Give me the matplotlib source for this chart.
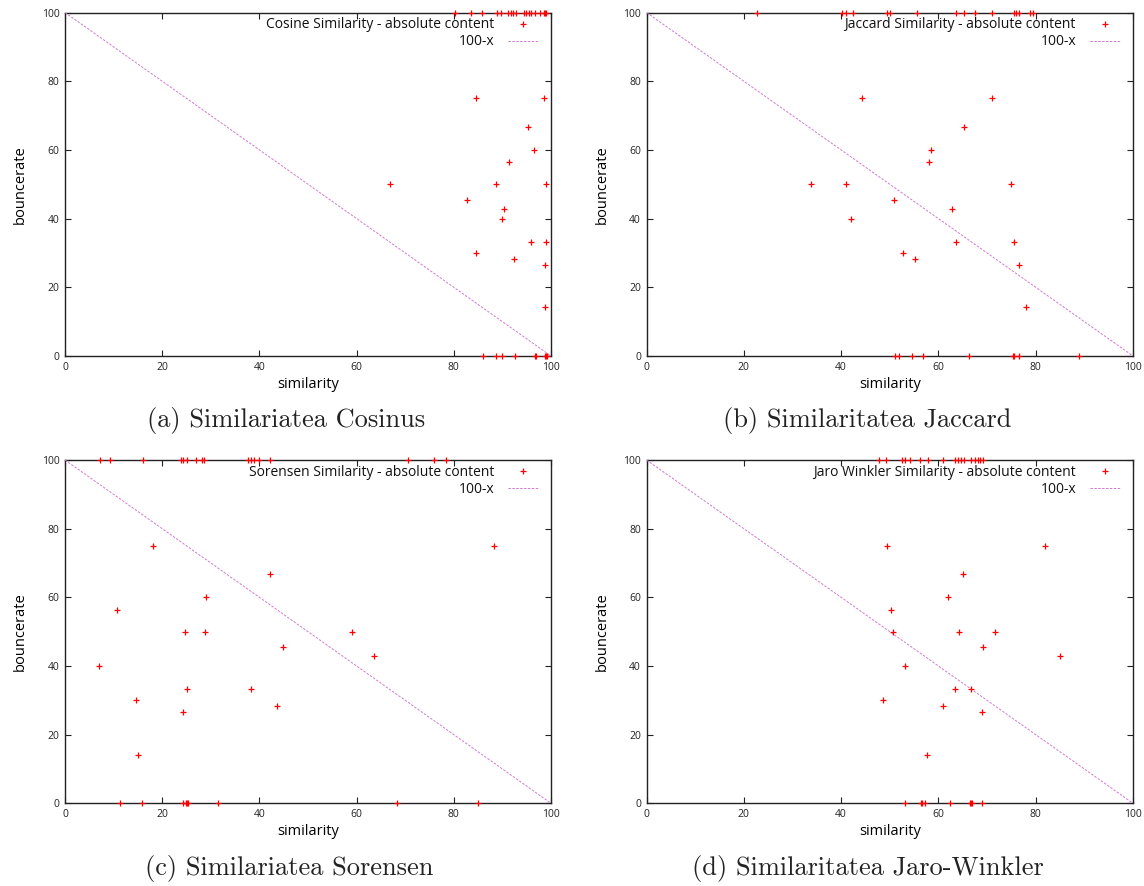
import matplotlib
matplotlib.use("Agg")
import matplotlib.pyplot as plt

# ---- data: (similarity %, bounce rate %) per page pair ----
cosine_sim = [84.5, 98.6, 95.3, 96.6, 91.4, 66.8, 88.7, 99.0, 82.8, 90.3, 89.9,
              95.8, 99.0, 84.5, 92.3, 98.8, 98.8,
              86.0, 88.7, 89.9, 92.6, 96.8, 97.0, 98.8, 99.0, 99.1,
              80.3, 83.6, 85.7, 88.8, 89.8, 91.2, 91.7, 92.2, 92.7, 94.4,
              94.9, 95.5, 95.8, 96.7, 97.7, 98.5, 98.7, 98.9]
cosine_bounce = [75, 75, 66.7, 60, 56.4, 50, 50, 50, 45.4, 42.8, 40,
                 33.3, 33.3, 30, 28.2, 26.6, 14.2,
                 0, 0, 0, 0, 0, 0, 0, 0, 0,
                 100, 100, 100, 100, 100, 100, 100, 100, 100, 100,
                 100, 100, 100, 100, 100, 100, 100, 100]

jaccard_sim = [44.2, 71.0, 65.2, 58.5, 58.1, 33.9, 41.0, 75.0, 50.8, 62.7, 42.0,
               63.7, 75.5, 52.7, 55.1, 76.5, 78.0,
               51.0, 52.0, 54.5, 56.8, 66.2, 75.3, 75.5, 76.5, 88.8,
               22.8, 40.1, 41.0, 42.5, 49.5, 50.0, 55.6, 63.7, 65.2, 67.6,
               71.0, 75.5, 76.0, 76.6, 78.8, 79.5]
jaccard_bounce = [75, 75, 66.7, 60, 56.4, 50, 50, 50, 45.4, 42.8, 40,
                  33.3, 33.3, 30, 28.2, 26.6, 14.2,
                  0, 0, 0, 0, 0, 0, 0, 0, 0,
                  100, 100, 100, 100, 100, 100, 100, 100, 100, 100,
                  100, 100, 100, 100, 100, 100]

sorensen_sim = [18.2, 88.3, 42.1, 29.0, 10.7, 24.7, 28.8, 59.0, 44.8, 63.6, 7.0,
                25.1, 38.2, 14.7, 43.6, 24.2, 15.1,
                11.4, 15.9, 24.2, 24.9, 25.1, 25.3, 31.5, 68.4, 84.9,
                7.1, 9.3, 16.0, 23.9, 24.2, 25.1, 26.9, 28.2, 28.6, 37.7,
                38.2, 38.8, 39.9, 42.1, 70.6, 75.9, 78.4]
sorensen_bounce = [75, 75, 66.7, 60, 56.4, 50, 50, 50, 45.4, 42.8, 40,
                   33.3, 33.3, 30, 28.2, 26.6, 14.2,
                   0, 0, 0, 0, 0, 0, 0, 0, 0,
                   100, 100, 100, 100, 100, 100, 100, 100, 100, 100,
                   100, 100, 100, 100, 100, 100, 100]

jaro_sim = [49.5, 81.9, 65.0, 61.9, 50.3, 50.6, 64.3, 71.7, 69.1, 84.9, 53.2,
            63.5, 66.7, 48.7, 60.9, 69.0, 57.6,
            53.2, 56.4, 56.7, 57.3, 62.4, 66.5, 66.7, 66.9, 68.9,
            47.7, 49.2, 52.6, 53.2, 54.2, 56.2, 57.8, 61.0, 63.4, 64.1,
            64.6, 65.2, 66.7, 67.6, 68.1, 68.6, 69.1]
jaro_bounce = [75, 75, 66.7, 60, 56.4, 50, 50, 50, 45.4, 42.8, 40,
               33.3, 33.3, 30, 28.2, 26.6, 14.2,
               0, 0, 0, 0, 0, 0, 0, 0, 0,
               100, 100, 100, 100, 100, 100, 100, 100, 100, 100,
               100, 100, 100, 100, 100, 100, 100]

series_labels = ["Cosine Similarity - absolute content",
                 "Jaccard Similarity - absolute content",
                 "Sorensen Similarity - absolute content",
                 "Jaro Winkler Similarity - absolute content"]
captions = ["(a) Similariatea Cosinus",
            "(b) Similaritatea Jaccard",
            "(c) Similariatea Sorensen",
            "(d) Similaritatea Jaro-Winkler"]
ref_x = [0, 100]
ref_y = [100 - v for v in ref_x]
ticks = [0, 20, 40, 60, 80, 100]

W, H = 1144, 886
fig = plt.figure(figsize=(W / 100, H / 100), dpi=100)
sans = ["Open Sans", "DejaVu Sans"]

# axes boxes in pixels: left, top, right, bottom
boxes = [(65, 12.5, 551, 356), (646.5, 12.5, 1133, 356),
         (65, 460, 551, 803.3), (646.5, 460, 1133, 803.3)]
caption_pos = [(286, 421), (867, 421), (289, 869), (868, 869)]
datasets = [(cosine_sim, cosine_bounce), (jaccard_sim, jaccard_bounce),
            (sorensen_sim, sorensen_bounce), (jaro_sim, jaro_bounce)]

for (l, t, r, b), (xs, ys), lab, cap, (cx, cy) in zip(boxes, datasets, series_labels,
                                                      captions, caption_pos):
    ax = fig.add_axes([l / W, (H - b) / H, (r - l) / W, (b - t) / H])
    ax.plot(xs, ys, linestyle="none", marker="+", color="#ff0000",
            markersize=4.5, markeredgewidth=0.9, clip_on=False, zorder=4,
            label=lab)
    ax.plot(ref_x, ref_y, color="#d07ad0", linewidth=0.7,
            dashes=(2.5, 1.5), label="100-x", zorder=3)
    ax.set_xlim(0, 100)
    ax.set_ylim(0, 100)
    ax.set_xticks(ticks)
    ax.set_yticks(ticks)
    ax.tick_params(direction="in", length=4, width=0.8, top=True, right=True,
                   labelsize=7.5, pad=4, colors="#222222")
    for lbl in ax.get_xticklabels() + ax.get_yticklabels():
        lbl.set_family(sans)
    for s in ax.spines.values():
        s.set_linewidth(1.0)
        s.set_color("#222222")
    ax.set_xlabel("similarity", family=sans, fontsize=10.5, labelpad=3)
    ax.set_ylabel("bouncerate", family=sans, fontsize=10.5, labelpad=10)
    leg = ax.legend(loc="upper right", bbox_to_anchor=(0.984, 1.0),
                    markerfirst=False, frameon=False,
                    prop={"family": sans, "size": 10}, handlelength=2.2,
                    handletextpad=1.0, labelspacing=0.15,
                    borderaxespad=0.15, borderpad=0.2)
    for tx in leg.get_texts():
        tx.set_color("#111111")
    fig.text(cx / W, 1 - cy / H, cap, ha="center", va="center",
             family=["cmr10", "DejaVu Serif"], fontsize=19, color="#222222")

fig.savefig("out.png", dpi=100)
